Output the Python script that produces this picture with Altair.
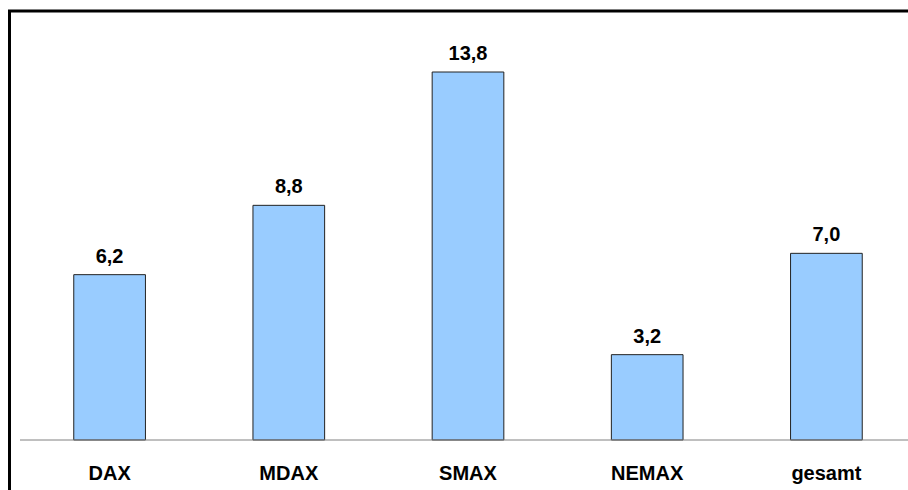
import altair as alt
import pandas as pd

categories = ["DAX", "MDAX", "SMAX", "NEMAX", "gesamt"]
values = [6.2, 8.8, 13.8, 3.2, 7.0]

df = pd.DataFrame({"cat": categories, "v": values})

FONT = "Liberation Sans"
xscale = alt.Scale(domain=categories, range=[20, 916], paddingInner=0.6, paddingOuter=0.3)
yscale = alt.Scale(domain=[0, 16.5], range=[440, 0], nice=False, zero=True)

base = alt.Chart(df).transform_calculate(
    label="replace(format(datum.v, '.1f'), '.', ',')"
)

frame = alt.Chart(df).mark_rect(fill=None, stroke="black", strokeWidth=3).encode(
    x=alt.value(9.5), x2=alt.value(1000), y=alt.value(11), y2=alt.value(1000)
).transform_filter("datum.cat == 'DAX'")

bars = base.mark_bar(color="#99CCFF", stroke="#222222", strokeWidth=1).encode(
    x=alt.X("cat:N", scale=xscale, axis=None, sort=categories),
    y=alt.Y("v:Q", scale=yscale, axis=None),
)

baseline = alt.Chart(df).mark_rule(color="#808080", strokeWidth=1).encode(
    y=alt.Y("zero:Q", scale=yscale, axis=None), x=alt.value(20), x2=alt.value(908)
).transform_calculate(zero="0").transform_filter("datum.cat == 'DAX'")

vlabels = base.mark_text(font=FONT, fontSize=20, fontWeight="bold", color="black",
                         baseline="alphabetic", dy=-12).encode(
    x=alt.X("cat:N", scale=xscale, axis=None, sort=categories),
    y=alt.Y("v:Q", scale=yscale, axis=None),
    text="label:N",
)

clabels = base.mark_text(font=FONT, fontSize=20, fontWeight="bold", color="black",
                         baseline="alphabetic").encode(
    x=alt.X("cat:N", scale=xscale, axis=None, sort=categories),
    y=alt.value(480),
    text="cat:N",
)

chart = alt.layer(bars, baseline, vlabels, clabels, frame).properties(
    width=908, height=490,
    autosize=alt.AutoSizeParams(type="none"),
    padding=0,
    background="white",
).configure_view(stroke=None)

chart.save("out.html", embed_options={"renderer": "svg", "actions": False})
